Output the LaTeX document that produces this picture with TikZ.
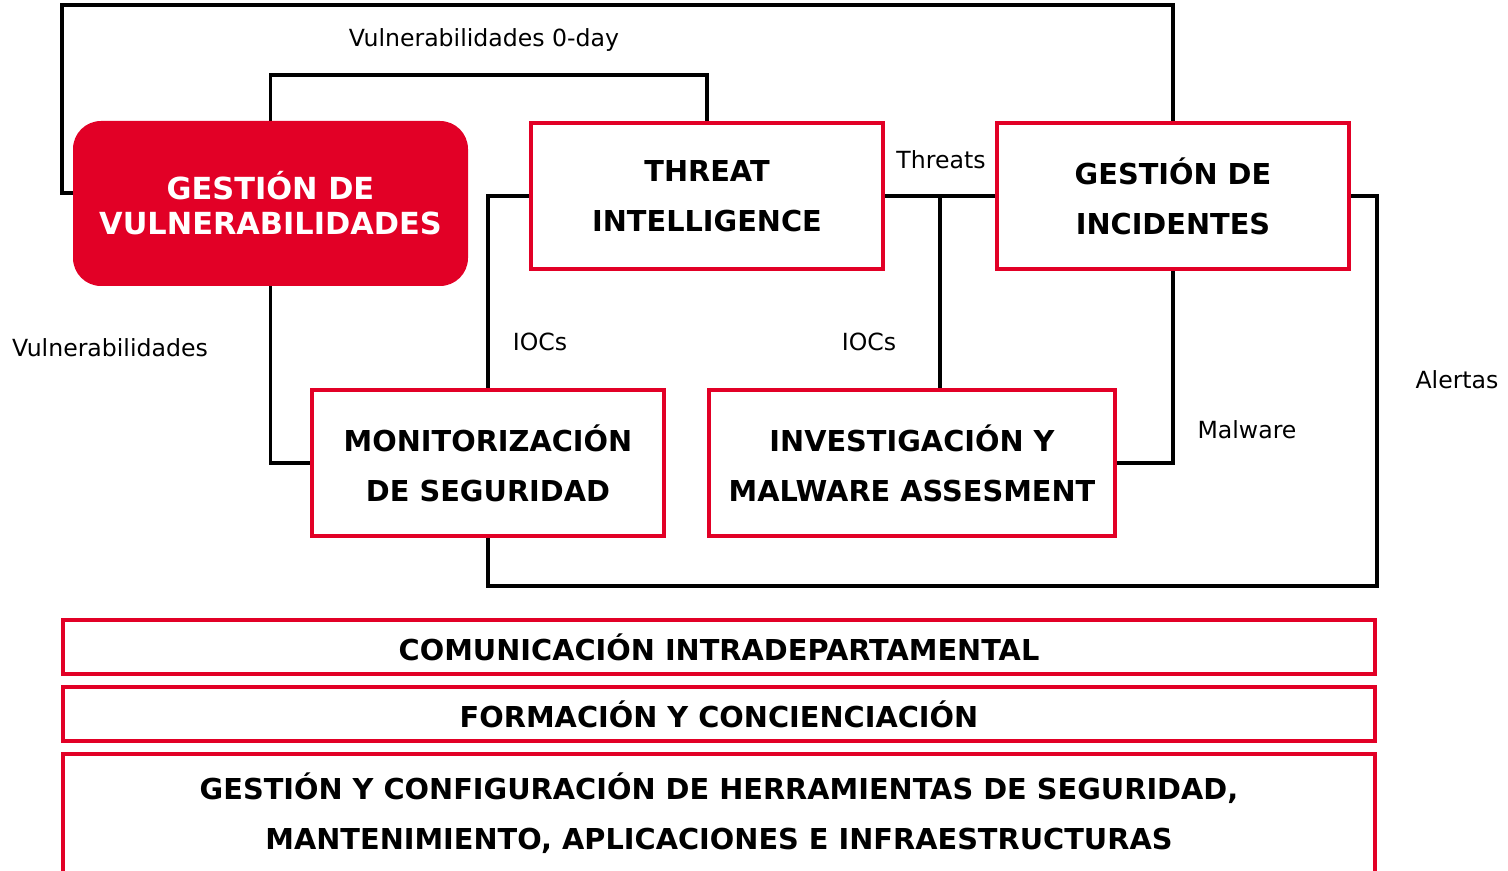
\documentclass[tikz,border=0pt]{standalone}
\usepackage{fontspec}
\setmainfont{DejaVu Sans}
\usetikzlibrary{backgrounds}
\definecolor{rojo}{RGB}{226,0,38}

\begin{document}
\begin{tikzpicture}[x=0.5pt,y=-0.5pt,
    caja/.style={draw=rojo,line width=2pt,fill=white,inner sep=0pt,align=center,
      font=\fontsize{14.4}{25}\selectfont\bfseries,minimum width=176pt,minimum height=73pt},
    franja/.style={caja,minimum width=656pt,minimum height=27pt},
    etiqueta/.style={inner sep=0pt,font=\fontsize{11.8}{14}\selectfont},
    enlace/.style={line width=1.6pt}]

    \useasboundingbox (0,0) rectangle (1508,871);

    % areas
    \node[fill=rojo,text=white,rounded corners=14pt,inner sep=0pt,align=center,
      minimum width=197.5pt,minimum height=82.5pt,
      font=\fontsize{15.2}{17.5}\selectfont\bfseries] (gv) at (270.5,203.5) {GESTIÓN DE\\VULNERABILIDADES};
    \node[caja] (ti) at (707,196) {THREAT\\INTELLIGENCE};
    \node[caja] (gi) at (1173,196) {GESTIÓN DE\\INCIDENTES};
    \node[caja] (ms) at (488,463) {MONITORIZACIÓN\\DE SEGURIDAD};
    \node[caja,minimum width=203pt] (im) at (912,463) {INVESTIGACIÓN Y\\MALWARE ASSESMENT};

    % franjas comunes
    \node[franja] (com) at (719,647) {COMUNICACIÓN INTRADEPARTAMENTAL};
    \node[franja] (for) at (719,714) {FORMACIÓN Y CONCIENCIACIÓN};
    \node[franja,minimum height=59.5pt] (ges) at (719,813.5) {GESTIÓN Y CONFIGURACIÓN DE HERRAMIENTAS DE SEGURIDAD,\\MANTENIMIENTO, APLICACIONES E INFRAESTRUCTURAS};

    % etiquetas
    \node[etiqueta] (l0day) at (484,40) {Vulnerabilidades 0-day};
    \node[etiqueta] (lthr) at (941,160) {Threats};
    \node[etiqueta] (lvul) at (110,348) {Vulnerabilidades};
    \node[etiqueta] (lioc1) at (540,342) {IOCs};
    \node[etiqueta] (lioc2) at (869,342) {IOCs};
    \node[etiqueta] (lmal) at (1247,430) {Malware};
    \node[etiqueta] (lale) at (1457,380) {Alertas};

    \coordinate (k1) at (62,193);
    \coordinate (k2) at (1173,5);
    \coordinate (k3) at (707,75);
    \coordinate (tj) at (940,196);
    \coordinate (k5) at (1377,586);

    \begin{scope}[on background layer]
    \draw[enlace] (gv.west |- k1) -- (k1) |- (k2) -- (gi.north);
    \draw[enlace] (gv.north) |- (k3) -- (ti.north);
    \draw[enlace] (gv.south) |- (ms.west);
    \draw[enlace] (ti.west) -| (ms.north);
    \draw[enlace] (ti.east) -- (gi.west);
    \draw[enlace] (tj) -- (tj |- im.north);
    \draw[enlace] (gi.south) |- (im.east);
    \draw[enlace] (gi.east) -| (k5) -| (ms.south);
    \end{scope}
\end{tikzpicture}
\end{document}
